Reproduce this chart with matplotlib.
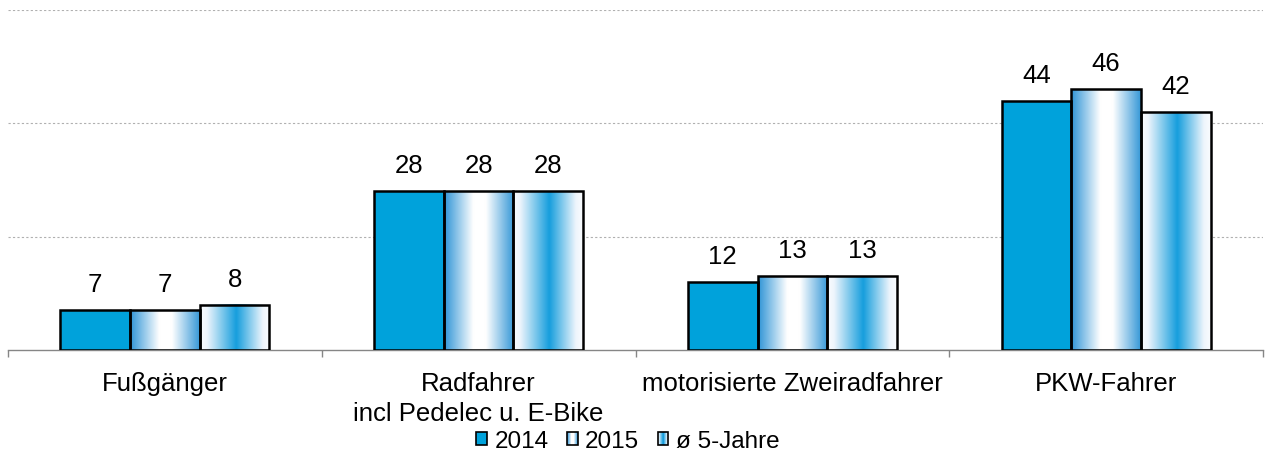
import matplotlib
matplotlib.use("Agg")
import matplotlib.pyplot as plt
import numpy as np
from matplotlib.colors import LinearSegmentedColormap
from matplotlib.patches import Rectangle, Patch
from matplotlib.legend_handler import HandlerBase

plt.rcParams['font.family'] = ['Liberation Sans', 'DejaVu Sans']

# ---- data ----
categories = ["Fußgänger", "Radfahrer\nincl Pedelec u. E-Bike",
              "motorisierte Zweiradfahrer", "PKW-Fahrer"]
series_names = ["2014", "2015", "ø 5-Jahre"]
values_2014 = [7, 28, 12, 44]
values_2015 = [7, 28, 13, 46]
values_avg5 = [8, 28, 13, 42]
y_ticks = [20, 40, 60]

# ---- styles ----
solid_blue = "#00A2DB"
cmap_2015 = LinearSegmentedColormap.from_list(
    "c2015", [(0.0, "#2E94D6"), (0.42, "#FFFFFF"), (0.6, "#FFFFFF"), (1.0, "#3698D7")])
cmap_avg = LinearSegmentedColormap.from_list(
    "cavg", [(0.0, "#FAFCFE"), (0.1, "#EEF5FC"), (0.52, "#169EDD"),
             (0.9, "#EEF5FC"), (1.0, "#FAFCFE")])

fig = plt.figure(figsize=(12.71, 4.56), dpi=100)
ax = fig.add_axes([8/1271, 1-351/456, (1263-8)/1271, (351-11)/456])

x = np.arange(len(categories))
bw = 0.2222
offsets = [-bw, 0, bw]
all_vals = [values_2014, values_2015, values_avg5]
fills = [solid_blue, None, None]
cmaps = [None, cmap_2015, cmap_avg]

grad = np.linspace(0, 1, 256).reshape(1, -1)
for vals, off, fc, cm in zip(all_vals, offsets, fills, cmaps):
    bars = ax.bar(x + off, vals, width=bw,
                  facecolor=fc if fc else "none",
                  edgecolor="black", linewidth=1.8, zorder=3)
    for b, v in zip(bars, vals):
        if cm is not None:
            x0 = b.get_x()
            ax.imshow(grad, cmap=cm, aspect="auto", interpolation="bicubic",
                      extent=(x0, x0 + b.get_width(), 0, b.get_height()), zorder=2)
        ax.annotate(f"{v}", (b.get_x() + b.get_width()/2, b.get_height()),
                    xytext=(0, 10), textcoords="offset points",
                    ha="center", va="bottom", fontsize=18.5, color="black")

ax.set_xlim(-0.5, len(categories) - 0.5)
ax.set_ylim(0, 60)
ax.set_yticks(y_ticks)
ax.yaxis.grid(True, color="#B0B0B0", linestyle=(0, (2, 2)), linewidth=0.8)
ax.set_axisbelow(True)
ax.tick_params(axis="y", left=False, labelleft=False)

for s in ["top", "right", "left"]:
    ax.spines[s].set_visible(False)
ax.spines["bottom"].set_color("#868686")
ax.spines["bottom"].set_linewidth(1.0)

ax.set_xticks(x)
ax.set_xticklabels(categories, fontsize=18.5, linespacing=1.3)
ax.set_xticks(np.arange(-0.5, len(categories)), minor=True)
ax.tick_params(axis="x", which="major", length=0, pad=15)
ax.tick_params(axis="x", which="minor", length=5, color="#868686", width=1.0, direction="out")


class GradHandler(HandlerBase):
    def __init__(self, cmap=None, color=None):
        super().__init__()
        self.cmap = cmap
        self.color = color

    def create_artists(self, legend, orig_handle, xdescent, ydescent,
                       width, height, fontsize, trans):
        arts = []
        if self.cmap is not None:
            n = 20
            for i in range(n):
                arts.append(Rectangle((-xdescent + width*i/n, -ydescent), width/n, height,
                                      facecolor=self.cmap((i+0.5)/n), edgecolor="none",
                                      transform=trans))
            arts.append(Rectangle((-xdescent, -ydescent), width, height, facecolor="none",
                                  edgecolor="black", linewidth=1.2, transform=trans))
        else:
            arts.append(Rectangle((-xdescent, -ydescent), width, height, facecolor=self.color,
                                  edgecolor="black", linewidth=1.2, transform=trans))
        return arts


proxies = [Patch(label=n) for n in series_names]
hmap = {proxies[0]: GradHandler(color=solid_blue),
        proxies[1]: GradHandler(cmap=cmap_2015),
        proxies[2]: GradHandler(cmap=cmap_avg)}
fig.legend(handles=proxies, labels=series_names, handler_map=hmap,
           loc="center", bbox_to_anchor=(0.494, 0.03), ncol=3, frameon=False,
           fontsize=17.5, handlelength=0.45, handleheight=0.45,
           handletextpad=0.3, columnspacing=0.75, borderpad=0, borderaxespad=0)

fig.savefig("out.png", dpi=100)
